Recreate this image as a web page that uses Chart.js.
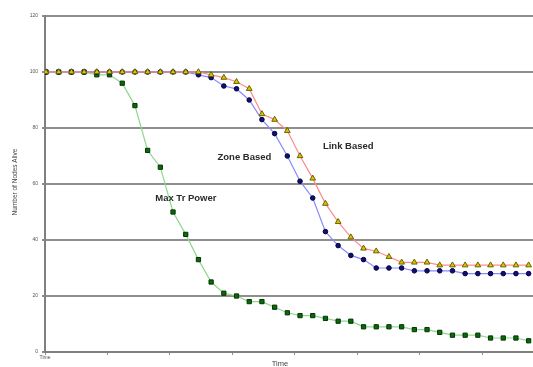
<!DOCTYPE html>
<html lang="en">
<head>
<meta charset="UTF-8">
<title>Number of Nodes Alive</title>
<style>
    html, body { margin: 0; padding: 0; background: #ffffff; overflow: hidden; }
    #wrap { width: 533px; height: 367px; overflow: hidden; }
</style>
</head>
<body>
<div id="wrap"><canvas id="chart" width="540" height="367"></canvas></div>

<script src="https://cdn.jsdelivr.net/npm/chart.js"></script>
<script>
    // time steps (category index of each sample)
    const steps = Array.from({ length: 39 }, (_, i) => i);

    // number of nodes alive per protocol
    const linkBased = [100, 100, 100, 100, 100, 100, 100, 100, 100, 100, 100, 100, 100, 99, 98, 96.5, 94, 85, 83, 79,
        70, 62, 53, 46.5, 41, 37, 36, 34, 32, 32, 32, 31, 31, 31, 31, 31, 31, 31, 31];
    const zoneBased = [100, 100, 100, 100, 100, 100, 100, 100, 100, 100, 100, 100, 99, 98, 95, 94, 90, 83, 78, 70,
        61, 55, 43, 38, 34.5, 33, 30, 30, 30, 29, 29, 29, 29, 28, 28, 28, 28, 28, 28];
    const maxTrPower = [100, 100, 100, 100, 99, 99, 96, 88, 72, 66, 50, 42, 33, 25, 21, 20, 18, 18, 16, 14,
        13, 13, 12, 11, 11, 9, 9, 9, 9, 8, 8, 7, 6, 6, 6, 5, 5, 5, 4];

    const yTicks = [0, 20, 40, 60, 80, 100, 120];

    // in-plot series labels, placed in data space
    const seriesLabels = [
        { text: 'Link Based', x: 21.8, y: 73.5 },
        { text: 'Zone Based', x: 13.5, y: 69.5 },
        { text: 'Max Tr Power', x: 8.6, y: 55 }
    ];

    const pts = arr => arr.map((v, i) => ({ x: steps[i], y: v }));

    const X_MIN = -0.08, X_MAX = 38.5, X_TICK_STEP = 4.92;

    const labelPlugin = {
        id: 'labels',
        afterDatasetsDraw(chart) {
            const ctx = chart.ctx;
            const xs = chart.scales.x, ys = chart.scales.y;
            ctx.save();
            ctx.fillStyle = '#2a2a2a';
            ctx.font = 'bold 9.5px "Liberation Sans", Arial, sans-serif';
            ctx.textBaseline = 'middle';
            ctx.textAlign = 'left';
            seriesLabels.forEach(l => {
                ctx.fillText(l.text, xs.getPixelForValue(l.x), ys.getPixelForValue(l.y));
            });
            // axis titles
            ctx.fillStyle = '#444';
            ctx.font = '6.5px "Liberation Sans", Arial, sans-serif';
            ctx.textAlign = 'center';
            ctx.save();
            ctx.translate(15, (ys.top + ys.bottom) / 2 - 2);
            ctx.rotate(-Math.PI / 2);
            ctx.fillText('Number of Nodes Alive', 0, 0);
            ctx.restore();
            ctx.font = '7.5px "Liberation Sans", Arial, sans-serif';
            ctx.fillText('Time', 280, 364);
            ctx.restore();
        }
    };

    new Chart(document.getElementById('chart').getContext('2d'), {
        type: 'line',
        data: {
            datasets: [
                {
                    label: 'Link Based',
                    data: pts(linkBased),
                    borderColor: '#ff8a8a',
                    borderWidth: 1.2,
                    pointStyle: 'triangle',
                    pointRadius: 3.3,
                    pointBackgroundColor: '#d4c800',
                    pointBorderColor: '#6b6000',
                    pointBorderWidth: 1
                },
                {
                    label: 'Zone Based',
                    data: pts(zoneBased),
                    borderColor: '#8888ff',
                    borderWidth: 1.2,
                    pointStyle: 'circle',
                    pointRadius: 2.3,
                    pointBackgroundColor: '#101070',
                    pointBorderColor: '#000040',
                    pointBorderWidth: 1
                },
                {
                    label: 'Max Tr Power',
                    data: pts(maxTrPower),
                    borderColor: '#8ed88e',
                    borderWidth: 1.2,
                    pointStyle: 'rect',
                    pointRadius: 3,
                    pointBackgroundColor: '#0a6a0a',
                    pointBorderColor: '#033303',
                    pointBorderWidth: 1
                }
            ]
        },
        options: {
            responsive: false,
            animation: false,
            events: [],
            layout: { padding: { top: 16, right: 0, left: 0, bottom: 0 } },
            plugins: {
                legend: { display: false },
                tooltip: { enabled: false }
            },
            scales: {
                x: {
                    type: 'linear',
                    min: X_MIN,
                    max: X_MAX,
                    afterBuildTicks(scale) {
                        const t = [];
                        for (let v = X_MIN; v <= X_MAX; v += X_TICK_STEP) t.push({ value: v });
                        scale.ticks = t;
                    },
                    afterFit(scale) { scale.height = 15; },
                    grid: {
                        drawOnChartArea: false,
                        drawTicks: true,
                        tickLength: 3,
                        color: '#909090',
                        lineWidth: 1
                    },
                    border: { color: '#808080', width: 2 },
                    ticks: {
                        autoSkip: false,
                        maxRotation: 0,
                        padding: 0,
                        color: '#555',
                        font: { size: 5, family: '"Liberation Sans", Arial, sans-serif' },
                        callback: (v, i) => (i === 0 ? 'Time' : '')
                    }
                },
                y: {
                    min: 0,
                    max: 120,
                    afterBuildTicks(scale) {
                        scale.ticks = yTicks.map(v => ({ value: v }));
                    },
                    afterFit(scale) { scale.width = 45; },
                    grid: {
                        color: '#8e8e8e',
                        lineWidth: 2,
                        tickLength: 3
                    },
                    border: { color: '#808080', width: 2 },
                    ticks: {
                        padding: 4,
                        color: '#555',
                        font: { size: 5, family: '"Liberation Sans", Arial, sans-serif' }
                    }
                }
            }
        },
        plugins: [labelPlugin]
    });
</script>
</body>
</html>
